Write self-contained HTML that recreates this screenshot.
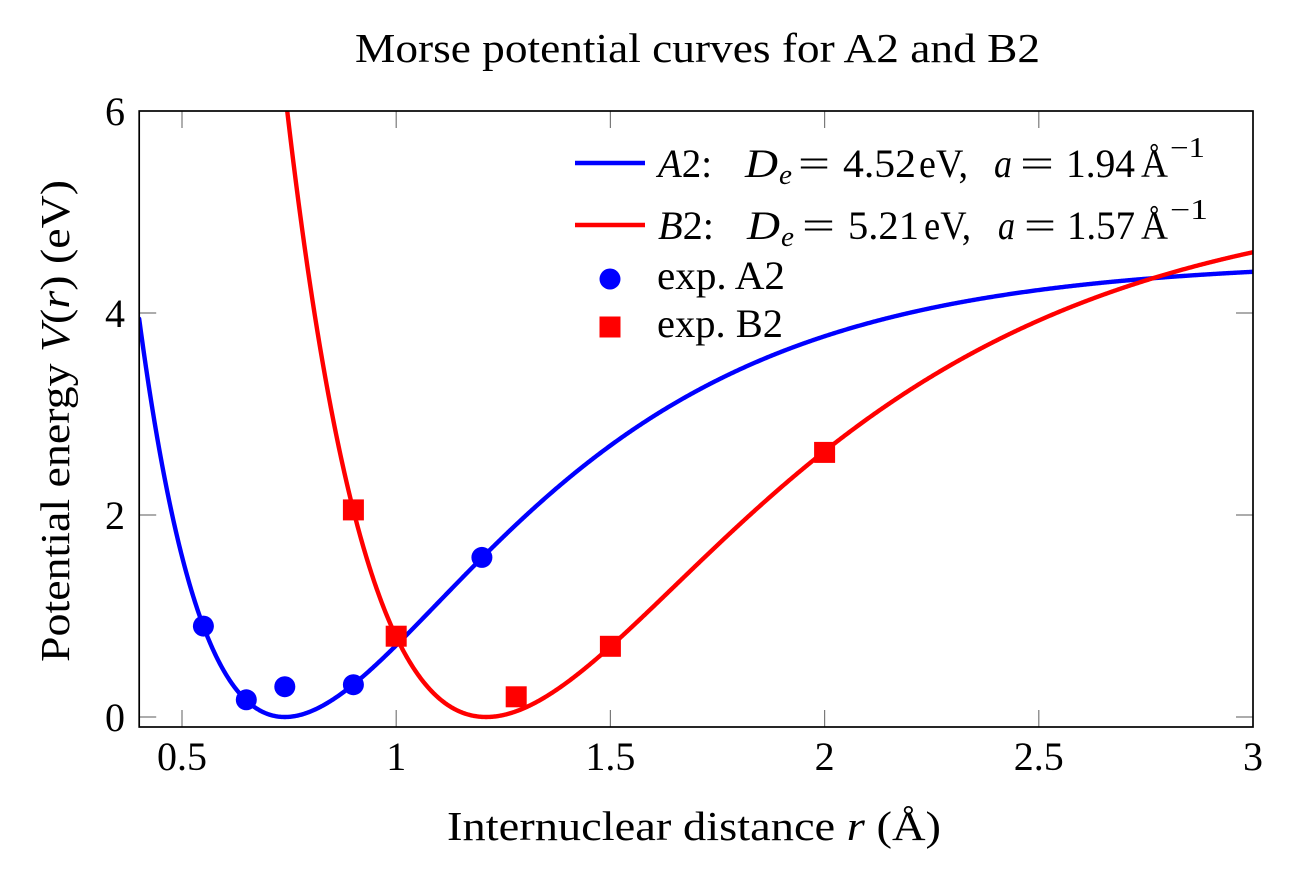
<!DOCTYPE html>
<html>
<head>
<meta charset="utf-8">
<style>
  html, body { margin: 0; padding: 0; background: #ffffff; }
  svg { display: block; }
  text { font-family: "Liberation Serif", "DejaVu Serif", serif; fill: #000; }
  .it { font-style: italic; }
</style>
</head>
<body>
<svg id="chart" width="1298" height="879" viewBox="0 0 1298 879" xmlns="http://www.w3.org/2000/svg">
  <defs>
    <clipPath id="plotclip">
      <rect x="139.2" y="111" width="1113.8" height="616"/>
    </clipPath>
  </defs>
  <rect x="0" y="0" width="1298" height="879" fill="#fff"/>

  <!-- Title -->
  <text x="355" y="62" font-size="41" textLength="685" lengthAdjust="spacingAndGlyphs">Morse potential curves for A2 and B2</text>

  <!-- Curves -->
  <g clip-path="url(#plotclip)" fill="none" stroke-linejoin="round" stroke-linecap="round">
    <path id="curveA" d="" stroke="#0000ff" stroke-width="4.4"/>
    <path id="curveB" d="" stroke="#ff0000" stroke-width="4.4"/>
  </g>

  <!-- Ticks -->
  <g stroke="#7a7a7a" stroke-width="1.2">
    <!-- bottom x ticks -->
    <line x1="182" y1="727" x2="182" y2="710"/>
    <line x1="396.2" y1="727" x2="396.2" y2="710"/>
    <line x1="610.4" y1="727" x2="610.4" y2="710"/>
    <line x1="824.6" y1="727" x2="824.6" y2="710"/>
    <line x1="1038.8" y1="727" x2="1038.8" y2="710"/>
    <!-- top x ticks -->
    <line x1="182" y1="111" x2="182" y2="128"/>
    <line x1="396.2" y1="111" x2="396.2" y2="128"/>
    <line x1="610.4" y1="111" x2="610.4" y2="128"/>
    <line x1="824.6" y1="111" x2="824.6" y2="128"/>
    <line x1="1038.8" y1="111" x2="1038.8" y2="128"/>
    <!-- left y ticks -->
    <line x1="139.2" y1="717" x2="156.2" y2="717"/>
    <line x1="139.2" y1="515" x2="156.2" y2="515"/>
    <line x1="139.2" y1="313" x2="156.2" y2="313"/>
    <!-- right y ticks -->
    <line x1="1253" y1="717" x2="1236" y2="717"/>
    <line x1="1253" y1="515" x2="1236" y2="515"/>
    <line x1="1253" y1="313" x2="1236" y2="313"/>
  </g>

  <!-- Data markers A2 -->
  <g fill="#0000ff">
    <circle cx="203.4" cy="626.1" r="10.5"/>
    <circle cx="246.3" cy="699.8" r="10.5"/>
    <circle cx="284.8" cy="686.7" r="10.5"/>
    <circle cx="353.4" cy="684.7" r="10.5"/>
    <circle cx="481.9" cy="557.4" r="10.5"/>
  </g>
  <!-- Data markers B2 -->
  <g fill="#ff0000">
    <rect x="342.9" y="499.4" width="21" height="21"/>
    <rect x="385.7" y="625.7" width="21" height="21"/>
    <rect x="505.7" y="686.3" width="21" height="21"/>
    <rect x="599.9" y="635.8" width="21" height="21"/>
    <rect x="814.1" y="441.9" width="21" height="21"/>
  </g>

  <!-- Frame -->
  <rect x="139.2" y="111" width="1113.8" height="616" fill="none" stroke="#000" stroke-width="1.7"/>

  <!-- Y tick labels -->
  <g font-size="40" text-anchor="end">
    <text x="125" y="731">0</text>
    <text x="125" y="529">2</text>
    <text x="125" y="327">4</text>
    <text x="125" y="125">6</text>
  </g>
  <!-- X tick labels -->
  <g font-size="40" text-anchor="middle">
    <text x="182" y="770">0.5</text>
    <text x="396.2" y="770">1</text>
    <text x="610.4" y="770">1.5</text>
    <text x="824.6" y="770">2</text>
    <text x="1038.8" y="770">2.5</text>
    <text x="1253" y="770">3</text>
  </g>

  <!-- Axis labels -->
  <text x="447" y="840" font-size="41" textLength="494" lengthAdjust="spacingAndGlyphs">Internuclear distance <tspan class="it">r</tspan> (Å)</text>
  <text transform="rotate(-90)" x="-662" y="69" font-size="41" textLength="482" lengthAdjust="spacingAndGlyphs">Potential energy <tspan class="it">V</tspan>(<tspan class="it">r</tspan>) (eV)</text>

  <!-- Legend -->
  <line x1="575" y1="163" x2="645" y2="163" stroke="#0000ff" stroke-width="4.4"/>
  <line x1="575" y1="225" x2="645" y2="225" stroke="#ff0000" stroke-width="4.4"/>
  <circle cx="610" cy="279" r="10.5" fill="#0000ff"/>
  <rect x="599.5" y="316.5" width="21" height="21" fill="#ff0000"/>

  <g font-size="40">
    <!-- Row 1 -->
    <text x="658" y="177" textLength="54" lengthAdjust="spacingAndGlyphs"><tspan class="it">A</tspan>2:</text>
    <text x="745" y="177" class="it" textLength="33" lengthAdjust="spacingAndGlyphs">D</text>
    <text x="779" y="184" class="it" font-size="28" textLength="13" lengthAdjust="spacingAndGlyphs">e</text>
    <text x="798" y="177" textLength="32" lengthAdjust="spacingAndGlyphs">=</text>
    <text x="843" y="177" textLength="73" lengthAdjust="spacingAndGlyphs">4.52</text>
    <text x="919" y="177" textLength="49" lengthAdjust="spacingAndGlyphs">eV,</text>
    <text x="994" y="177" class="it" textLength="18" lengthAdjust="spacingAndGlyphs">a</text>
    <text x="1020" y="177" textLength="34" lengthAdjust="spacingAndGlyphs">=</text>
    <text x="1066" y="177" textLength="69" lengthAdjust="spacingAndGlyphs">1.94</text>
    <text x="1141" y="177" textLength="27" lengthAdjust="spacingAndGlyphs">Å</text>
    <text x="1170" y="157" font-size="28" textLength="35" lengthAdjust="spacingAndGlyphs">−1</text>

    <!-- Row 2 -->
    <text x="658" y="239" textLength="56" lengthAdjust="spacingAndGlyphs"><tspan class="it">B</tspan>2:</text>
    <text x="747" y="239" class="it" textLength="33" lengthAdjust="spacingAndGlyphs">D</text>
    <text x="781" y="246" class="it" font-size="28" textLength="13" lengthAdjust="spacingAndGlyphs">e</text>
    <text x="802" y="239" textLength="33" lengthAdjust="spacingAndGlyphs">=</text>
    <text x="848" y="239" textLength="71" lengthAdjust="spacingAndGlyphs">5.21</text>
    <text x="924" y="239" textLength="47" lengthAdjust="spacingAndGlyphs">eV,</text>
    <text x="998" y="239" class="it" textLength="17" lengthAdjust="spacingAndGlyphs">a</text>
    <text x="1024" y="239" textLength="32" lengthAdjust="spacingAndGlyphs">=</text>
    <text x="1067" y="239" textLength="68" lengthAdjust="spacingAndGlyphs">1.57</text>
    <text x="1141" y="239" textLength="27" lengthAdjust="spacingAndGlyphs">Å</text>
    <text x="1170" y="219" font-size="28" textLength="38" lengthAdjust="spacingAndGlyphs">−1</text>

    <!-- Rows 3-4 -->
    <text x="657" y="289" textLength="128" lengthAdjust="spacingAndGlyphs">exp. A2</text>
    <text x="657" y="337" textLength="126" lengthAdjust="spacingAndGlyphs">exp. B2</text>
  </g>

  <script>
    (function () {
      function X(r) { return 139.16 + (r - 0.4) * 428.4; }
      function Y(v) { return 717 - 101 * v; }
      function morse(De, a, re, r) { var e = 1 - Math.exp(-a * (r - re)); return De * e * e; }
      function build(De, a, re) {
        var d = "";
        var first = true;
        for (var i = 0; i <= 1300; i++) {
          var r = 0.4 + i * 0.002;
          var v = morse(De, a, re, r);
          var y = Y(v);
          if (y < -200) y = -200;
          d += (first ? "M" : "L") + X(r).toFixed(2) + "," + y.toFixed(2);
          first = false;
        }
        return d;
      }
      document.getElementById("curveA").setAttribute("d", build(4.52, 1.94, 0.74));
      document.getElementById("curveB").setAttribute("d", build(5.21, 1.57, 1.21));
    })();
  </script>
</svg>
</body>
</html>
